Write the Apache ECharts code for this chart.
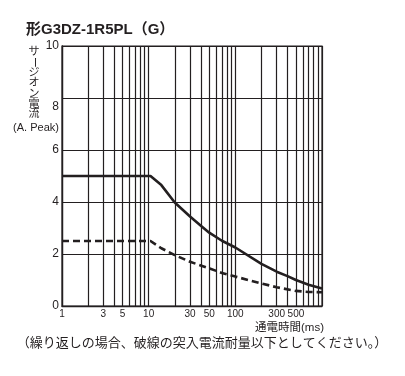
<!DOCTYPE html>
<html>
<head>
<meta charset="utf-8">
<script src="https://cdn.jsdelivr.net/npm/echarts@6/dist/echarts.min.js"></script>
<style>
  html, body { margin: 0; background: #fff; }
  #main { width: 405px; height: 376px; }
</style>
</head>
<body>
<div id="main"></div>
<script>
// 通電時間 (ms) と サージオン電流 (A. Peak)
var solidTime    = [1, 10.5, 14, 20, 30, 40, 50, 70, 100, 200, 300, 400, 500, 700, 1000];
var solidCurrent = [5, 5, 4.65, 3.98, 3.44, 3.09, 2.82, 2.51, 2.25, 1.62, 1.32, 1.15, 1.0, 0.82, 0.67];
var dashTime     = [1, 10.5, 14, 20, 30, 50, 70, 100, 200, 300, 500, 700, 1000];
var dashCurrent  = [2.5, 2.5, 2.22, 1.96, 1.7, 1.45, 1.27, 1.13, 0.87, 0.72, 0.58, 0.54, 0.53];

var xLabels = [1, 3, 5, 10, 30, 50, 100, 300, 500];
var xGrid = [1, 2, 3, 4, 5, 6, 7, 8, 9, 10,
             20, 30, 40, 50, 60, 70, 80, 90, 100,
             200, 300, 400, 500, 600, 700, 800, 900, 1000];

var ink = '#231f20';
var font = '"Liberation Sans", "Noto Sans CJK JP", sans-serif';

function pairs(xs, ys) {
  return xs.map(function (x, i) { return [x, ys[i]]; });
}

// 縦書きの軸名
var nameGraphics = 'サージオン電流'.split('').map(function (c, i) {
  return {
    type: 'text',
    x: 34,
    y: 52 + i * 10.4,
    rotation: c === 'ー' ? -Math.PI / 2 : 0,
    style: { text: c, font: '11px ' + font, fill: ink, align: 'center', verticalAlign: 'middle' }
  };
});

var chart = echarts.init(document.getElementById('main'));
chart.setOption({
  animation: false,
  grid: { left: 62, top: 46, width: 260, height: 260, show: true, borderColor: ink, borderWidth: 1.2 },
  xAxis: {
    type: 'log',
    logBase: 10,
    min: 1,
    max: 1000,
    axisLine: { show: true, onZero: false, lineStyle: { color: ink, width: 1.3 } },
    axisTick: { show: false, customValues: xGrid },
    axisLabel: { customValues: xLabels, color: ink, fontSize: 10, fontFamily: font, margin: 3 },
    splitLine: { show: true, lineStyle: { color: ink, width: 1.2 } }
  },
  yAxis: {
    type: 'value',
    min: 0,
    max: 10,
    interval: 2,
    axisLine: { show: true, lineStyle: { color: ink, width: 1.3 } },
    axisTick: { show: false },
    axisLabel: {
      color: ink, fontSize: 12, fontFamily: font, margin: 3,
      formatter: function (v) { return v === 8 ? '{low|8}' : String(v); },
      rich: { low: { padding: [18, 0, 0, 0], fontSize: 12, fontFamily: font, color: ink } }
    },
    splitLine: { show: true, lineStyle: { color: ink, width: 1.2 } }
  },
  graphic: [
    { type: 'text', x: 26, y: 30,
      style: { text: '形G3DZ-1R5PL（G）', font: 'bold 15px ' + font, fill: ink, verticalAlign: 'middle' } },
    { type: 'text', x: 36, y: 128,
      style: { text: '(A. Peak)', font: '11px ' + font, fill: ink, align: 'center', verticalAlign: 'middle' } },
    { type: 'text', x: 324, y: 328,
      style: { text: '通電時間(ms)', font: '11.5px ' + font, fill: ink, align: 'right', verticalAlign: 'middle' } },
    { type: 'text', x: 202, y: 343,
      style: { text: '（繰り返しの場合、破線の突入電流耐量以下としてください。）', font: '13px ' + font, fill: ink, align: 'center', verticalAlign: 'middle' } }
  ].concat(nameGraphics),
  series: [
    {
      type: 'line',
      data: pairs(solidTime, solidCurrent),
      symbol: 'none',
      lineStyle: { color: ink, width: 2.6 },
      z: 5
    },
    {
      type: 'line',
      data: pairs(dashTime, dashCurrent),
      symbol: 'none',
      lineStyle: { color: ink, width: 2.6, type: [7, 4] },
      z: 5
    }
  ]
});
</script>
</body>
</html>
